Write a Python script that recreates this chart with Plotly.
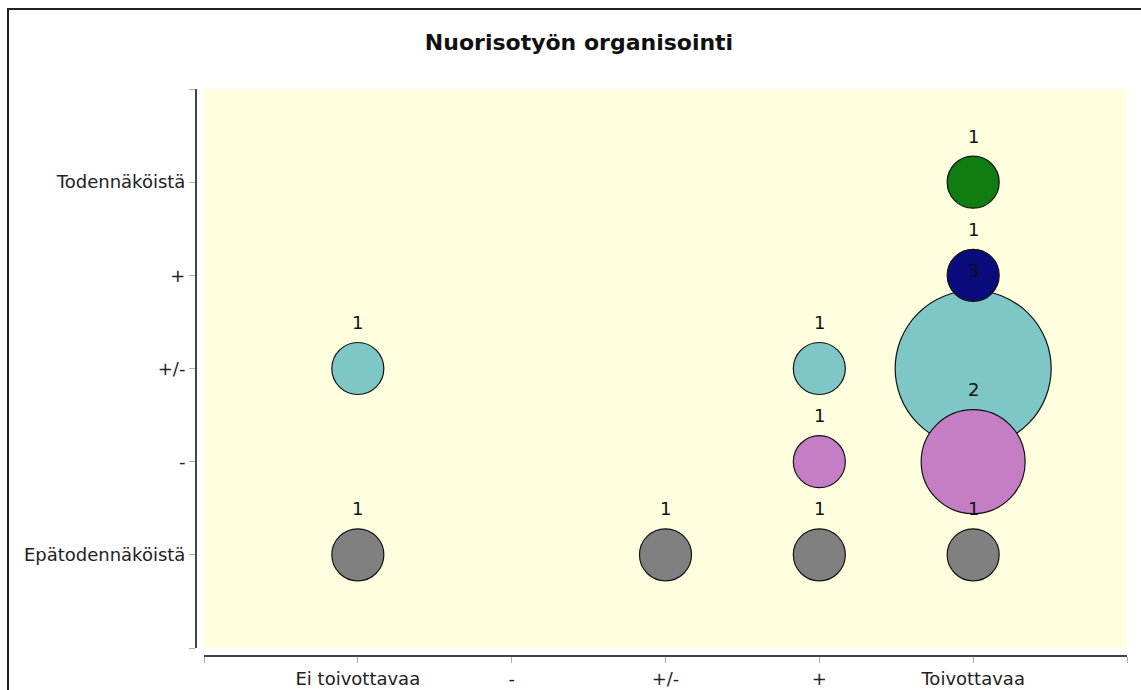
import plotly.graph_objects as go

# ---- data ----
x_categories = ["Ei toivottavaa", "-", "+/-", "+", "Toivottavaa"]
y_categories = ["Epätodennäköistä", "-", "+/-", "+", "Todennäköistä"]

# counts per y-row, over x_categories
counts_epatod = [1, 0, 1, 1, 1]
counts_minus = [0, 0, 0, 1, 2]
counts_pm = [1, 0, 0, 1, 3]
counts_plus = [0, 0, 0, 0, 1]
counts_tod = [0, 0, 0, 0, 1]

row_colors = {
    "Epätodennäköistä": "#808080",
    "-": "#C57DC5",
    "+/-": "#7FC7C7",
    "+": "#0B0B7D",
    "Todennäköistä": "#0F7D0F",
}

rows = {
    "Epätodennäköistä": counts_epatod,
    "-": counts_minus,
    "+/-": counts_pm,
    "+": counts_plus,
    "Todennäköistä": counts_tod,
}
draw_order = ["+/-", "Epätodennäköistä", "-", "+", "Todennäköistä"]

# ---- layout geometry (pixels; page body margin removed so figure sits at 0,0) ----
W, H = 1141, 690
ML, MR, MT, MB = 196, 14, 89, 34
PW = W - ML - MR
PH = H - MT - MB
OFF = 8
UNIT = 52  # bubble diameter per count

FONT = "DejaVu Sans"

fig = go.Figure()
annotations = []
for row in draw_order:
    vals = rows[row]
    xs, ys, ss, cs = [], [], [], []
    yi = y_categories.index(row)
    for xi, v in enumerate(vals):
        if v > 0:
            xs.append(xi)
            ys.append(yi)
            ss.append(v * UNIT)
            cs.append(v)
    fig.add_trace(go.Scatter(
        x=xs, y=ys, mode="markers", name=row,
        marker=dict(size=ss, sizemode="diameter", sizeref=1,
                    color=row_colors[row], opacity=1,
                    line=dict(color="#111111", width=1.2)),
        customdata=cs,
        hovertemplate="%{customdata}<extra></extra>",
        showlegend=False,
    ))
    for x, y, s, c in zip(xs, ys, ss, cs):
        annotations.append(dict(
            x=x, y=y, xref="x", yref="y", text=str(c), showarrow=False,
            yshift=s / 2 + 20, font=dict(family=FONT, size=18, color="#111111"),
        ))

tickvals = list(range(-1, len(x_categories) + 1))
xticktext = [""] + x_categories + [""]
yticktext = [""] + y_categories + [""]

fig.update_layout(
    width=W, height=H, autosize=False,
    margin=dict(l=ML, r=MR, t=MT, b=MB, pad=0, autoexpand=False),
    paper_bgcolor="white",
    plot_bgcolor="#FFFFE0",
    title=dict(text="Nuorisotyön organisointi", x=579 / W, xanchor="center",
               y=1 - 42 / H, yanchor="middle", automargin=False,
               font=dict(family=FONT, size=22, color="#111111", weight="bold")),
    xaxis=dict(
        domain=[OFF / PW, 1], anchor="free", position=0,
        range=[-1, len(x_categories)], tickmode="array",
        tickvals=tickvals, ticktext=xticktext,
        ticks="outside", ticklen=6, tickwidth=1, tickcolor="#B0B0B0",
        automargin=False,
        showline=True, linecolor="#444444", linewidth=2,
        showgrid=False, zeroline=False,
        tickfont=dict(family=FONT, size=18, color="#222222"),
        fixedrange=True,
    ),
    yaxis=dict(
        domain=[OFF / PH, 1], anchor="free", position=0,
        range=[-1, len(y_categories)], tickmode="array",
        tickvals=tickvals, ticktext=yticktext,
        ticks="outside", ticklen=6, tickwidth=1, tickcolor="#B0B0B0",
        automargin=False,
        showline=True, linecolor="#444444", linewidth=2,
        showgrid=False, zeroline=False,
        tickfont=dict(family=FONT, size=18, color="#222222"),
        fixedrange=True,
    ),
    annotations=annotations,
    shapes=[dict(
        type="rect", xref="paper", yref="paper",
        x0=(8 - ML) / PW, x1=(W + 30 - ML) / PW,
        y0=-(30 + MB) / PH, y1=((H - MB) - 9) / PH,
        line=dict(color="#222222", width=2), fillcolor="rgba(0,0,0,0)",
        layer="below",
    )],
    showlegend=False,
)

fig.write_html(
    "out.html",
    config={"displayModeBar": False},
    post_script="document.body.style.margin='0';document.body.style.overflow='hidden';",
)
